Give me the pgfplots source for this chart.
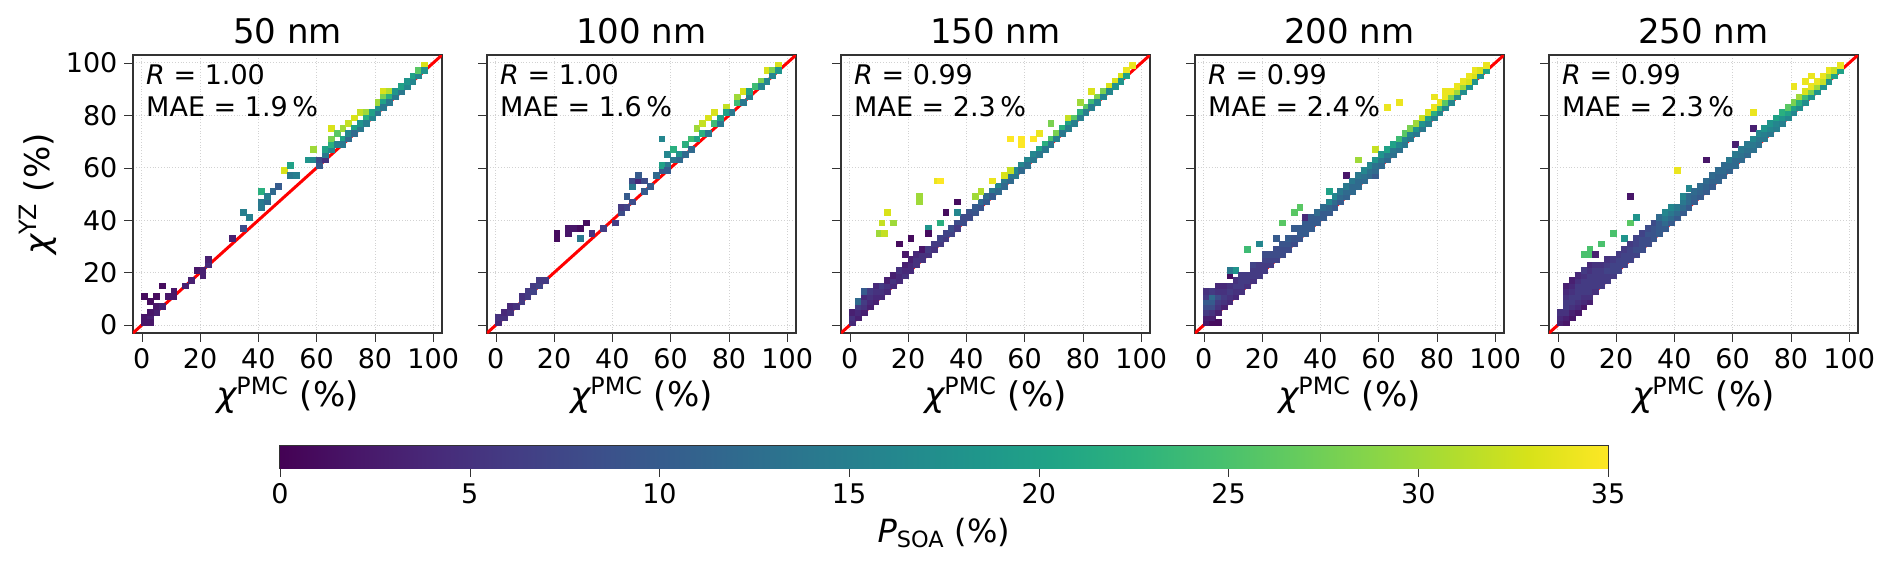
\documentclass[border=0pt]{standalone}
\usepackage{pgfplots}
\pgfplotsset{compat=1.18}
\usepgfplotslibrary{groupplots}
\usepackage{fontspec}
\setmainfont{DejaVu Sans}
\begin{document}
\begin{tikzpicture}
\pgfplotsset{
  mycells/.style={scatter, only marks, mark=square*, mark size=1.45pt, point meta=explicit,
    scatter/use mapped color={draw=mapped color, fill=mapped color}},
}
\begin{groupplot}[
  group style={group size=5 by 1, horizontal sep=22.5pt, y descriptions at=edge left},
  width=154.5pt, height=139pt, scale only axis,
  xmin=-3, xmax=103, ymin=-3, ymax=103,
  xtick={0,20,...,100}, ytick={0,20,...,100},
  grid=major, major grid style={densely dotted, gray!35},
  axis line style={black!80, line width=0.8pt},
  tick style={black!80}, tick align=outside, tick pos=left,
  ticklabel style={font=\fontsize{13.5}{15}\selectfont},
  /pgf/number format/assume math mode=true,
  colormap name=viridis, point meta min=0, point meta max=35,
  title style={font=\fontsize{17}{20}\selectfont, yshift=-4pt},
  xlabel={{\itshape χ}\textsuperscript{PMC} (\%)},
  xlabel style={font=\fontsize{17}{20}\selectfont, yshift=3pt},
  ylabel style={font=\fontsize{17}{20}\selectfont, yshift=-2pt},
  clip=true,
]
\nextgroupplot[title={50 nm}, ylabel={{\itshape χ}\textsuperscript{YZ} (\%)}]
\addplot[mycells] coordinates {
(1,1)[2] (1,3)[2] (3,3)[3] (3,1)[2] (5,5)[3] (3,5)[2] (1,11)[1] (3,9)[1] (5,11)[1] (5,7)[2] (7,7)[3] (7,15)[1] (9,11)[2] (11,11)[2] (11,13)[2] (15,15)[3] (17,17)[3] (19,21)[2] (21,19)[3] (21,21)[3] (23,23)[4] (23,25)[3] (31,33)[3] (35,37)[8] (35,43)[15] (37,41)[15] (41,45)[14] (41,47)[14] (43,47)[12] (41,51)[22] (43,49)[15] (45,51)[12] (47,53)[10] (49,59)[33] (51,57)[14] (51,61)[20] (53,57)[15] (57,63)[18] (59,63)[16] (61,61)[10] (61,63)[8] (59,67)[30] (63,63)[5] (63,65)[14] (63,67)[20] (65,67)[16] (65,69)[22] (65,75)[33] (65,71)[28] (67,69)[15] (67,73)[26] (69,75)[30] (69,71)[20] (69,69)[14] (71,71)[12] (71,73)[16] (71,77)[32] (73,75)[20] (73,79)[33] (73,73)[12] (75,75)[14] (75,77)[18] (75,81)[32] (77,81)[30] (77,79)[22] (77,77)[15] (79,79)[16] (79,81)[20] (81,81)[14] (81,83)[18] (81,85)[30] (83,89)[33] (83,87)[28] (83,85)[20] (83,83)[14] (85,89)[31] (85,87)[22] (85,85)[14] (87,87)[14] (87,89)[18] (89,89)[14] (89,91)[20] (91,91)[16] (91,93)[18] (93,93)[16] (93,95)[20] (95,95)[16] (95,97)[26] (97,99)[33] (97,97)[18]
};
\addplot[red, line width=1.5pt] coordinates {(-3,-3) (103,103)};
\node[anchor=north west, align=left, font=\fontsize{13.5}{16}\selectfont] at (rel axis cs:0.02,0.99) {{\itshape R} = 1.00\\MAE = 1.9\,\%};

\nextgroupplot[title={100 nm}]
\addplot[mycells] coordinates {
(1,1)[4] (1,3)[5] (3,3)[5] (3,5)[4] (5,5)[5] (5,7)[4] (7,7)[5] (9,9)[6] (9,11)[5] (11,11)[6] (11,13)[6] (13,13)[7] (13,15)[6] (15,15)[7] (15,17)[6] (17,17)[6] (21,33)[1] (21,35)[1] (25,37)[2] (27,37)[2] (29,37)[1] (31,39)[1] (25,35)[2] (29,33)[14] (33,35)[5] (37,37)[6] (41,39)[6] (43,43)[8] (43,45)[6] (45,45)[7] (47,47)[8] (45,49)[10] (47,53)[14] (47,55)[8] (49,55)[4] (49,57)[10] (51,55)[8] (51,51)[10] (53,53)[10] (55,57)[12] (57,59)[10] (59,61)[14] (57,61)[20] (59,65)[16] (57,71)[16] (59,59)[10] (61,63)[14] (61,67)[22] (63,65)[18] (63,63)[12] (65,69)[22] (65,65)[12] (67,67)[12] (67,71)[24] (69,71)[20] (69,75)[30] (71,77)[32] (71,73)[22] (73,73)[14] (73,79)[33] (75,81)[33] (75,77)[24] (77,77)[14] (77,79)[20] (79,83)[32] (79,81)[20] (81,81)[14] (83,85)[24] (83,87)[30] (85,85)[14] (85,89)[33] (87,87)[15] (87,89)[20] (89,91)[24] (91,93)[28] (91,91)[16] (93,93)[16] (93,97)[33] (95,97)[28] (95,95)[16] (97,99)[33] (97,97)[18]
};
\addplot[red, line width=1.5pt] coordinates {(-3,-3) (103,103)};
\node[anchor=north west, align=left, font=\fontsize{13.5}{16}\selectfont] at (rel axis cs:0.02,0.99) {{\itshape R} = 1.00\\MAE = 1.6\,\%};

\nextgroupplot[title={150 nm}]
\addplot[mycells] coordinates {
(1,1)[4] (1,3)[5] (1,5)[3] (3,3)[3] (3,5)[4] (3,7)[6] (3,9)[12] (5,5)[3] (5,7)[5] (5,9)[6] (5,11)[4] (5,13)[10] (7,7)[3] (7,9)[4] (7,11)[5] (7,13)[6] (9,9)[3] (9,11)[4] (9,13)[5] (9,15)[4] (11,11)[4] (11,13)[5] (11,15)[6] (13,13)[4] (13,15)[5] (13,17)[3] (15,15)[4] (15,17)[5] (15,19)[3] (17,17)[4] (17,19)[4] (17,21)[5] (19,19)[5] (19,21)[4] (19,23)[3] (19,27)[2] (21,21)[4] (21,23)[4] (21,25)[3] (23,23)[5] (23,25)[5] (23,27)[4] (25,25)[5] (25,27)[5] (25,29)[2] (27,27)[5] (27,29)[6] (29,29)[5] (29,31)[6] (31,31)[6] (31,33)[7] (33,33)[6] (33,35)[7] (35,35)[7] (35,37)[8] (37,39)[8] (37,37)[6] (39,39)[8] (39,41)[8] (41,43)[9] (41,41)[8] (43,43)[9] (43,45)[10] (45,45)[9] (45,47)[12] (47,49)[12] (47,47)[10] (49,51)[14] (49,49)[10] (51,53)[16] (51,51)[12] (53,55)[14] (53,53)[12] (55,57)[14] (55,55)[12] (57,57)[14] (57,59)[16] (59,61)[16] (59,59)[12] (61,63)[16] (61,61)[13] (63,65)[16] (63,63)[14] (65,67)[20] (65,65)[14] (67,69)[22] (67,67)[14] (69,71)[25] (69,69)[14] (71,73)[28] (71,71)[15] (73,75)[22] (73,73)[14] (75,77)[20] (75,75)[15] (75,79)[32] (77,79)[26] (77,77)[15] (79,81)[22] (79,79)[15] (81,83)[26] (81,81)[15] (79,85)[30] (83,85)[24] (83,83)[15] (85,87)[28] (85,85)[16] (83,89)[33] (87,89)[28] (87,87)[16] (89,91)[33] (89,89)[16] (91,93)[33] (91,91)[18] (93,95)[33] (93,93)[18] (95,97)[34] (95,95)[20] (97,99)[34]
(13,43)[33] (11,39)[32] (15,39)[30] (10,35)[30] (12,35)[32] (24,47)[30] (24,49)[30] (30,55)[34] (31,55)[35] (55,71)[35] (59,71)[35] (59,69)[35] (63,71)[35] (65,73)[34] (69,77)[28] (49,55)[34] (53,57)[33] (55,59)[32] (43,49)[30] (45,51)[31] (37,47)[1] (33,43)[1] (37,43)[16] (27,37)[18] (27,35)[1] (21,33)[1] (17,31)[1] (31,39)[22]
};
\addplot[red, line width=1.5pt] coordinates {(-3,-3) (103,103)};
\node[anchor=north west, align=left, font=\fontsize{13.5}{16}\selectfont] at (rel axis cs:0.02,0.99) {{\itshape R} = 0.99\\MAE = 2.3\,\%};

\nextgroupplot[title={200 nm}]
\addplot[mycells] coordinates {
(1,1)[2] (1,3)[3] (1,5)[6] (1,7)[8] (1,9)[10] (1,11)[6] (1,13)[5] (3,1)[1] (3,3)[3] (3,5)[5] (3,7)[8] (3,9)[10] (3,11)[12] (3,13)[6] (5,1)[1] (5,5)[3] (5,7)[5] (5,9)[6] (5,11)[8] (5,13)[5] (5,15)[4] (7,7)[3] (7,9)[5] (7,11)[6] (7,13)[5] (7,15)[4] (9,9)[4] (9,11)[5] (9,13)[6] (9,15)[5] (9,19)[1] (9,21)[14] (11,11)[4] (11,13)[5] (11,15)[6] (11,17)[5] (11,21)[18] (13,13)[5] (13,15)[6] (13,17)[6] (13,19)[6] (15,15)[5] (15,17)[6] (15,19)[6] (15,29)[24] (17,17)[5] (17,19)[6] (17,21)[6] (17,23)[7] (19,19)[6] (19,21)[6] (19,23)[6] (19,31)[16] (21,21)[6] (21,23)[6] (21,25)[7] (21,27)[8] (23,23)[6] (23,25)[7] (23,27)[8] (25,25)[7] (25,27)[8] (25,29)[8] (25,33)[10] (27,27)[8] (27,29)[8] (27,31)[9] (27,39)[26] (29,29)[8] (29,31)[9] (29,33)[10] (31,31)[8] (31,33)[9] (31,37)[10] (31,43)[26] (33,33)[9] (33,35)[10] (33,37)[10] (33,45)[26] (35,35)[10] (35,37)[10] (35,39)[10] (35,41)[4] (37,37)[10] (37,39)[10] (37,41)[10] (39,39)[10] (39,41)[10] (39,43)[12] (41,41)[10] (41,43)[10] (41,45)[12] (43,43)[10] (43,45)[11] (43,47)[16] (43,51)[20] (45,45)[10] (45,47)[12] (45,49)[16] (47,47)[10] (47,49)[12] (47,51)[14] (49,49)[11] (49,51)[12] (49,53)[14] (49,57)[2] (51,51)[12] (51,53)[12] (51,55)[14] (53,53)[12] (53,55)[12] (53,57)[14] (53,63)[30] (55,55)[12] (55,57)[13] (55,59)[16] (57,57)[12] (57,59)[13] (57,61)[16] (59,57)[10] (59,59)[12] (59,61)[13] (59,63)[18] (59,67)[32] (61,61)[12] (61,63)[14] (61,65)[18] (63,63)[12] (63,65)[14] (63,67)[20] (63,83)[34] (65,65)[13] (65,67)[14] (65,69)[20] (67,67)[13] (67,69)[16] (67,71)[24] (67,85)[34] (69,69)[14] (69,71)[16] (69,73)[26] (71,71)[14] (71,73)[16] (71,75)[28] (73,73)[14] (73,75)[18] (73,77)[30] (75,75)[14] (75,77)[18] (75,79)[32] (77,77)[15] (77,79)[20] (77,81)[33] (79,79)[15] (79,81)[22] (79,87)[34] (79,83)[34] (81,81)[16] (81,83)[24] (81,85)[34] (83,83)[16] (83,85)[26] (83,87)[34] (83,89)[34] (85,85)[16] (85,87)[28] (85,89)[34] (87,87)[17] (87,89)[30] (87,91)[34] (89,89)[17] (89,91)[30] (89,93)[34] (91,91)[18] (91,93)[33] (91,95)[34] (93,93)[18] (93,95)[33] (93,97)[34] (95,95)[18] (95,97)[33] (97,97)[20] (97,99)[34]
};
\addplot[red, line width=1.5pt] coordinates {(-3,-3) (103,103)};
\node[anchor=north west, align=left, font=\fontsize{13.5}{16}\selectfont] at (rel axis cs:0.02,0.99) {{\itshape R} = 0.99\\MAE = 2.4\,\%};

\nextgroupplot[title={250 nm}]
\addplot[mycells] coordinates {
(1,1)[3] (1,3)[4] (1,5)[5] (3,1)[2] (3,3)[3] (3,5)[5] (3,7)[6] (3,9)[6] (3,11)[5] (3,13)[4] (3,15)[3] (5,3)[2] (5,5)[3] (5,7)[5] (5,9)[6] (5,11)[6] (5,13)[5] (5,15)[4] (5,17)[3] (7,5)[2] (7,7)[4] (7,9)[5] (7,11)[6] (7,13)[6] (7,15)[6] (7,17)[5] (7,19)[4] (9,7)[2] (9,9)[4] (9,11)[5] (9,13)[6] (9,15)[6] (9,17)[6] (9,19)[5] (9,21)[6] (9,27)[25] (11,9)[3] (11,11)[5] (11,13)[6] (11,15)[6] (11,17)[6] (11,19)[6] (11,21)[5] (11,23)[4] (11,27)[25] (11,29)[25] (13,13)[5] (13,15)[6] (13,17)[6] (13,19)[6] (13,21)[6] (13,23)[5] (13,27)[3] (15,15)[6] (15,17)[6] (15,19)[6] (15,21)[6] (15,23)[5] (15,31)[25] (17,17)[6] (17,19)[6] (17,21)[7] (17,23)[6] (17,25)[5] (19,19)[6] (19,21)[7] (19,23)[7] (19,25)[6] (19,35)[25] (21,21)[7] (21,23)[7] (21,25)[7] (21,27)[6] (23,23)[7] (23,25)[7] (23,27)[7] (23,29)[6] (23,33)[18] (25,25)[7] (25,27)[7] (25,29)[7] (25,31)[6] (25,49)[2] (25,39)[26] (27,27)[7] (27,29)[8] (27,31)[7] (27,33)[7] (27,41)[18] (29,29)[8] (29,31)[8] (29,33)[8] (29,35)[7] (31,31)[8] (31,33)[8] (31,35)[9] (31,37)[8] (33,33)[9] (33,35)[9] (33,37)[9] (33,39)[8] (35,35)[10] (35,37)[10] (35,39)[10] (35,41)[12] (37,37)[10] (37,39)[12] (37,41)[14] (37,43)[16] (39,39)[10] (39,41)[12] (39,43)[14] (39,45)[16] (41,41)[10] (41,43)[12] (41,45)[14] (41,59)[34] (43,43)[10] (43,45)[12] (43,47)[14] (43,49)[16] (45,45)[10] (45,47)[12] (45,49)[12] (45,52)[16] (47,47)[10] (47,49)[11] (47,51)[12] (49,49)[10] (49,51)[11] (49,53)[12] (51,51)[10] (51,53)[11] (51,55)[12] (51,63)[2] (53,53)[10] (53,55)[11] (53,57)[12] (55,55)[11] (55,57)[11] (55,59)[12] (57,57)[11] (57,59)[12] (57,61)[12] (59,59)[11] (59,61)[12] (59,63)[14] (61,61)[12] (61,63)[12] (61,65)[14] (61,69)[3] (63,63)[12] (63,65)[13] (63,67)[14] (65,65)[12] (65,67)[13] (65,69)[14] (67,67)[13] (67,69)[14] (67,71)[16] (67,75)[3] (67,81)[34] (69,69)[13] (69,71)[14] (69,73)[16] (71,71)[14] (71,73)[15] (71,75)[18] (73,73)[14] (73,75)[16] (73,77)[18] (75,75)[15] (75,77)[16] (75,79)[20] (77,77)[15] (77,79)[18] (77,81)[22] (79,79)[16] (79,81)[20] (79,83)[26] (81,81)[16] (81,83)[20] (81,85)[28] (81,91)[34] (83,83)[17] (83,85)[22] (83,87)[30] (85,85)[17] (85,87)[24] (85,89)[33] (85,93)[34] (87,87)[18] (87,89)[28] (87,91)[34] (87,95)[34] (89,89)[18] (89,91)[30] (89,93)[34] (91,91)[18] (91,93)[32] (91,95)[34] (93,93)[18] (93,95)[30] (93,97)[34] (95,95)[20] (95,97)[32] (97,97)[20] (97,99)[34]
};
\addplot[red, line width=1.5pt] coordinates {(-3,-3) (103,103)};
\node[anchor=north west, align=left, font=\fontsize{13.5}{16}\selectfont] at (rel axis cs:0.02,0.99) {{\itshape R} = 0.99\\MAE = 2.3\,\%};
\end{groupplot}
\begin{axis}[at={(group c1r1.south west)}, anchor=north west, xshift=73.5pt, yshift=-56.5pt,
  width=664pt, height=11pt, scale only axis,
  xmin=0, xmax=35, ymin=0, ymax=1, ytick=\empty, xtick={0,5,...,35},
  tick align=outside, tick style={black!80}, xtick pos=bottom,
  axis line style={black!80, line width=0.8pt},
  ticklabel style={font=\fontsize{13.5}{15}\selectfont},
  /pgf/number format/assume math mode=true,
  colormap name=viridis, point meta min=0, point meta max=35,
  xlabel={{\itshape P}\textsubscript{SOA} (\%)},
  xlabel style={font=\fontsize{16}{19}\selectfont}]
\addplot[surf, shader=interp, point meta=x, mesh/rows=2] coordinates {(0,0) (35,0) (0,1) (35,1)};
\end{axis}
\pgfresetboundingbox
\path (group c1r1.south west) ++(-66.5pt,-118.5pt) rectangle ++(946pt,285pt);
\end{tikzpicture}
\end{document}
